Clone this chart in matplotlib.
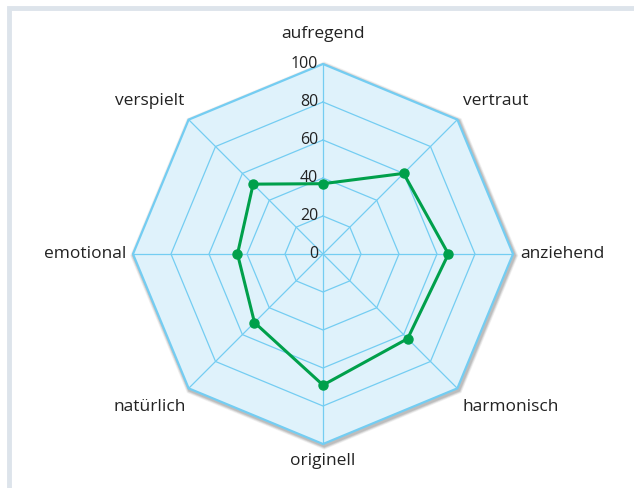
import numpy as np
import matplotlib
matplotlib.use("Agg")
import matplotlib.pyplot as plt
import matplotlib.patches as mpatches
import matplotlib.patheffects as pe
from matplotlib import font_manager

# ── Data ─────────────────────────────────────────────────────────────────────
labels = ["aufregend", "vertraut", "anziehend", "harmonisch",
          "originell", "natürlich", "emotional", "verspielt"]
values = [37, 60, 66, 63, 69, 51, 45, 52]
rings = [20, 40, 60, 80, 100]
tick_labels = ["0", "20", "40", "60", "80", "100"]

FILL = "#dff2fb"
GRID = "#74cdf2"
GREEN = "#00a04b"

# narrow font if there is one, else Open Sans
names = {f.name for f in font_manager.fontManager.ttflist}
FONT = "Liberation Sans Narrow" if "Liberation Sans Narrow" in names else "Open Sans"
FS_LAB = 14.5 if FONT == "Liberation Sans Narrow" else 12.5
FS_TICK = 13.5 if FONT == "Liberation Sans Narrow" else 11.5

# angles: first axis on top, then clockwise
n = len(labels)
ang = np.pi / 2 - np.arange(n) * 2 * np.pi / n
ca, sa = np.cos(ang), np.sin(ang)

fig = plt.figure(figsize=(6.34, 4.88), dpi=100)
ax = fig.add_axes([0, 0, 1, 1])
# centre at pixel (323, 254), 100 units = 190 px
s = 1.9
ax.set_xlim(-323 / s, (634 - 323) / s)
ax.set_ylim(-(488 - 254) / s, 254 / s)
ax.set_aspect("equal")
ax.axis("off")

# frame of the panel (top + left edge visible)
fig.patches.append(mpatches.Rectangle((9 / 634, -0.1), 1.2, (488 - 8) / 488 + 0.1,
                                      transform=fig.transFigure, fill=False,
                                      ec="#dde4eb", lw=3.5))

# outer octagon: soft shadow made of a few faint layers
ox = 100 * ca
oy = 100 * sa
for k, a in [(4, 0.06), (3, 0.08), (2, 0.10), (1, 0.12)]:
    sh = mpatches.Polygon(np.column_stack([ox, oy]), closed=True, fc="none",
                          ec="#333333", lw=1.5 + k, alpha=a, zorder=0.5)
    sh.set_path_effects([pe.withStroke(linewidth=0, foreground="none")])
    sh.set_transform(ax.transData + matplotlib.transforms.ScaledTranslation(
        1.2 / 100, -1.6 / 100, fig.dpi_scale_trans))
    ax.add_patch(sh)

outer = mpatches.Polygon(np.column_stack([ox, oy]), closed=True, fc=FILL,
                         ec=GRID, lw=1.6, zorder=1)
ax.add_patch(outer)

for r in rings[:-1]:
    ax.plot(np.append(r * ca, r * ca[0]), np.append(r * sa, r * sa[0]),
            color=GRID, lw=0.9, zorder=2)
for i in range(n):
    ax.plot([0, 100 * ca[i]], [0, 100 * sa[i]], color=GRID, lw=0.9, zorder=2)

# tick labels on the upper axis
for k, t in enumerate(tick_labels):
    ax.text(-2.6, k * 20, t, ha="right", va="center", fontsize=FS_TICK,
            family=FONT, color="#222222", zorder=3)

# data polygon
v = np.array(values, dtype=float)
xs, ys = v * ca, v * sa
ax.plot(np.append(xs, xs[0]), np.append(ys, ys[0]), color=GREEN, lw=2.2,
        zorder=4, solid_joinstyle="miter")
ax.plot(xs, ys, "o", color=GREEN, ms=6.5, zorder=5)

# category labels
pos = {
    "aufregend": (0, 116, "center"),
    "vertraut": (91, 80.5, "center"),
    "anziehend": (104, 0, "left"),
    "harmonisch": (99, -80.5, "center"),
    "originell": (0, -109, "center"),
    "natürlich": (-91, -80.5, "center"),
    "emotional": (-103.5, 0, "right"),
    "verspielt": (-91, 80.5, "center"),
}
for lab in labels:
    x, y, ha = pos[lab]
    ax.text(x, y, lab, ha=ha, va="center", fontsize=FS_LAB, family=FONT,
            color="#222222")

fig.savefig("out.png", dpi=100)
